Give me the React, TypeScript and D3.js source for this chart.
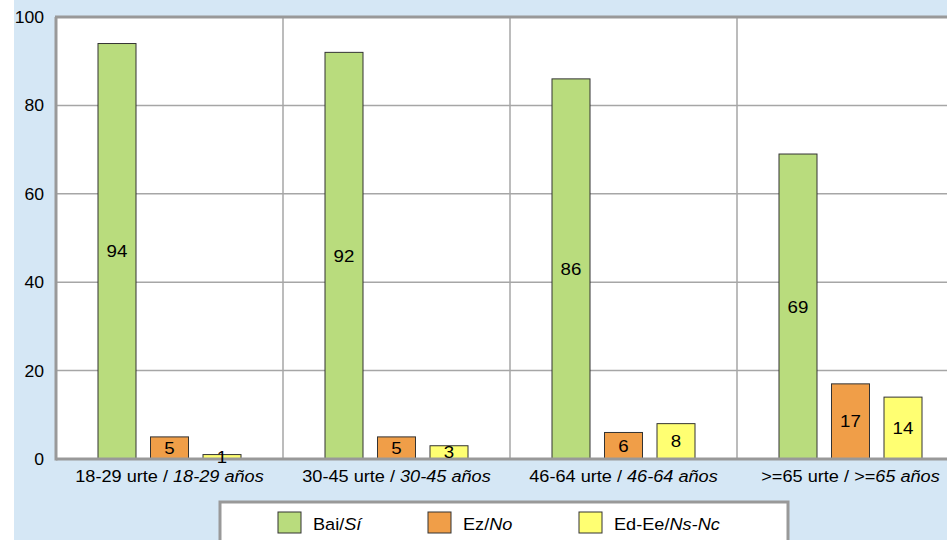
import React from "react";
import * as d3 from "d3";

const categories = ["18-29", "30-45", "46-64", ">=65"];
const catNormal = ["18-29 urte / ", "30-45 urte / ", "46-64 urte / ", ">=65 urte / "];
const catItalic = ["18-29 años", "30-45 años", "46-64 años", ">=65 años"];
const seriesNames = ["Bai/", "Ez/", "Ed-Ee/"];
const seriesItalic = ["Sí", "No", "Ns-Nc"];
const seriesColors = ["#b9dc7d", "#f09e48", "#ffff72"];
const bai = [94, 92, 86, 69];
const ez = [5, 5, 6, 17];
const edee = [1, 3, 8, 14];
const yTicks = [0, 20, 40, 60, 80, 100];

const series = [bai, ez, edee];
const SX = 1.1;

function T(props: { x: number; y: number; anchor?: string; size?: number; children: React.ReactNode }) {
  const { x, y, anchor = "start", size = 16.5, children } = props;
  return (
    <text transform={`translate(${x},${y}) scale(${SX},1)`} textAnchor={anchor} fontSize={size} fill="#000">
      {children}
    </text>
  );
}

export default function App() {
  const W = 947, H = 540;
  const left = 56, top = 17, bottom = 459;
  const catW = 227;
  const right = left + catW * 4;
  const x = d3.scaleBand<string>().domain(categories).range([left, right]).padding(0);
  const y = d3.scaleLinear().domain([0, 100]).range([bottom, top]);
  const barW = 38;
  const offsets = [42, 94.5, 147];
  const font = "'Liberation Sans', Arial, sans-serif";

  return (
    <svg width={W} height={H} style={{ position: "absolute", left: 0, top: 0 }} fontFamily={font}>
      <rect x={0} y={0} width={W} height={H} fill="#ffffff" />
      <rect x={14} y={0} width={W - 14} height={H} fill="#d5e7f5" />
      <rect x={left} y={top} width={right - left} height={bottom - top} fill="#ffffff" />
      {yTicks.filter(t => t > 0 && t < 100).map(t => (
        <line key={t} x1={left} x2={right} y1={y(t)} y2={y(t)} stroke="#a6a6a6" strokeWidth={1.5} />
      ))}
      {categories.slice(1).map(c => (
        <line key={c} x1={x(c)!} x2={x(c)!} y1={top} y2={bottom} stroke="#a6a6a6" strokeWidth={1.5} />
      ))}
      <line x1={left - 1} x2={right} y1={top} y2={top} stroke="#999999" strokeWidth={3} />
      <line x1={left} x2={left} y1={top} y2={bottom + 1.5} stroke="#999999" strokeWidth={3} />
      {categories.map((c, ci) => series.map((s, si) => {
        const bx = x(c)! + offsets[si];
        const by = y(s[ci]);
        return (
          <rect key={c + si} x={bx} y={by} width={barW} height={bottom - by} fill={seriesColors[si]} stroke="#333333" strokeWidth={1} />
        );
      }))}
      <line x1={left} x2={right} y1={bottom} y2={bottom} stroke="#999999" strokeWidth={3} />
      {categories.map((c, ci) => series.map((s, si) => {
        const bx = x(c)! + offsets[si];
        const by = y(s[ci]);
        return (
          <T key={"t" + c + si} x={bx + barW / 2} y={(by + bottom) / 2 + 6} anchor="middle" size={17}>
            {s[ci]}
          </T>
        );
      }))}
      {yTicks.map(t => (
        <T key={"y" + t} x={44} y={y(t) + 6} anchor="end" size={16}>{t}</T>
      ))}
      {categories.map((c, ci) => (
        <T key={"x" + c} x={x(c)! + catW / 2} y={482} anchor="middle" size={16.5}>
          {catNormal[ci]}<tspan fontStyle="italic">{catItalic[ci]}</tspan>
        </T>
      ))}
      <rect x={220} y={502} width={568} height={50} fill="#ffffff" stroke="#999999" strokeWidth={3} />
      {seriesNames.map((n, i) => {
        const lx = [278, 428, 579][i];
        return (
          <g key={"l" + i}>
            <rect x={lx} y={512} width={23} height={21} fill={seriesColors[i]} stroke="#333333" strokeWidth={1} />
            <T x={lx + 35} y={530} size={16.5}>
              {n}<tspan fontStyle="italic">{seriesItalic[i]}</tspan>
            </T>
          </g>
        );
      })}
    </svg>
  );
}
